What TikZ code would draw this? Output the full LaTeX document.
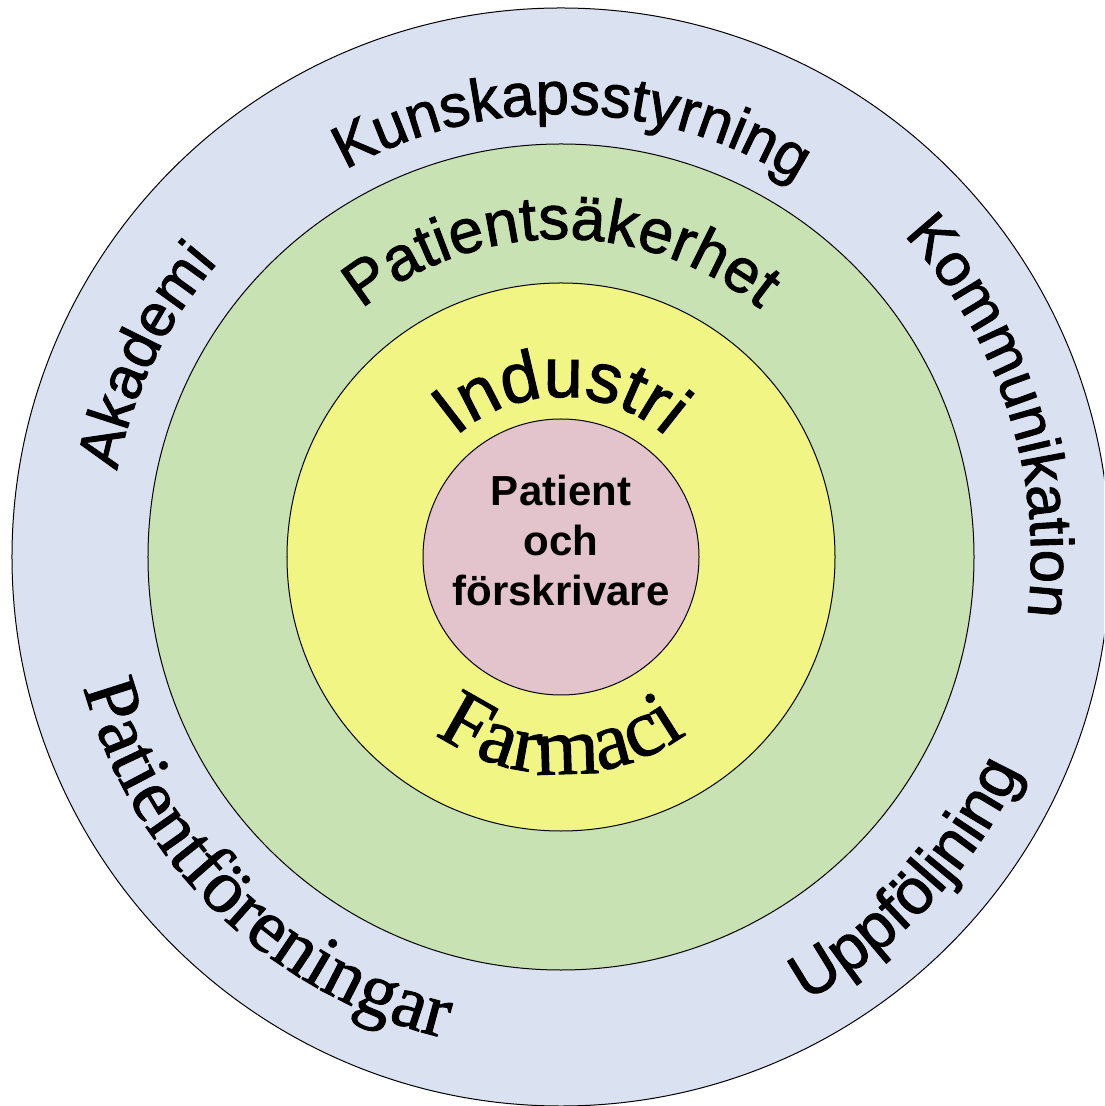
\documentclass[tikz,border=0pt]{standalone}
\usepackage{fontspec}
\setmainfont{Liberation Serif}
\setsansfont{Liberation Sans}
\newfontfamily\ringsans[FakeBold=1.5]{Liberation Sans}
\newfontfamily\ringserif[FakeBold=1.2]{Liberation Serif}
\usepackage{tikz}
\usetikzlibrary{decorations.text}

\definecolor{ringblue}{RGB}{218,225,241}
\definecolor{ringgreen}{RGB}{200,226,179}
\definecolor{ringyellow}{RGB}{241,245,132}
\definecolor{ringpink}{RGB}{227,195,204}

\newcommand{\outerfont}{\ringsans\fontsize{30}{36}\selectfont}
\newcommand{\bigouterfont}{\ringsans\fontsize{32}{38}\selectfont}
\newcommand{\greenfont}{\ringsans\fontsize{31}{37}\selectfont}
\newcommand{\yellowfont}{\ringsans\fontsize{35}{41}\selectfont}
\newcommand{\seriffont}{\ringserif\fontsize{38}{44}\selectfont}
\newcommand{\farmfont}{\ringserif\fontsize{41}{48}\selectfont}

\tikzset{
  ring/.style={draw=black, line width=0.5pt},
  arclabel/.style 2 args={decorate, decoration={text along path,
      text align=center, text={|#1|#2}}}
}

\begin{document}
\begin{tikzpicture}[x=0.5pt,y=0.5pt]
\useasboundingbox (-561,-549) rectangle (543,557);
\clip (-561,-549) rectangle (543,557);
\foreach \r/\c in {549/ringblue,413/ringgreen,274/ringyellow,138/ringpink} {
  \draw[ring, fill=\c] (0,0) circle[radius=\r];
}
% outer ring
\path[arclabel={\outerfont}{Kunskapsstyrning}] (178.5:443) arc[start angle=178.5, end angle=-1.5, radius=443];
\path[arclabel={\outerfont}{Akademi}] (234.2:452) arc[start angle=234.2, end angle=74.2, radius=452];
\path[arclabel={\outerfont}{Kommunikation}] (108:470) arc[start angle=108, end angle=-72, radius=470];
\path[arclabel={\bigouterfont}{Uppföljning}] (-133:507) arc[start angle=-133, end angle=47, radius=507];
\path[arclabel={\seriffont}{Patientföreningar}] (135.8:495) arc[start angle=135.8, end angle=315.8, radius=495];
% green ring
\path[arclabel={\greenfont}{Patientsäkerhet}] (180:318) arc[start angle=180, end angle=0, radius=318];
% yellow ring
\path[arclabel={\yellowfont}{Industri}] (180:160) arc[start angle=180, end angle=0, radius=160];
\path[arclabel={\farmfont}{Farmaci}] (180:217) arc[start angle=180, end angle=360, radius=217];
% centre
\node[align=center, font=\sffamily\bfseries\fontsize{21}{25}\selectfont] (patient) at (0,17) {Patient\\och\\förskrivare};
\end{tikzpicture}
\end{document}
